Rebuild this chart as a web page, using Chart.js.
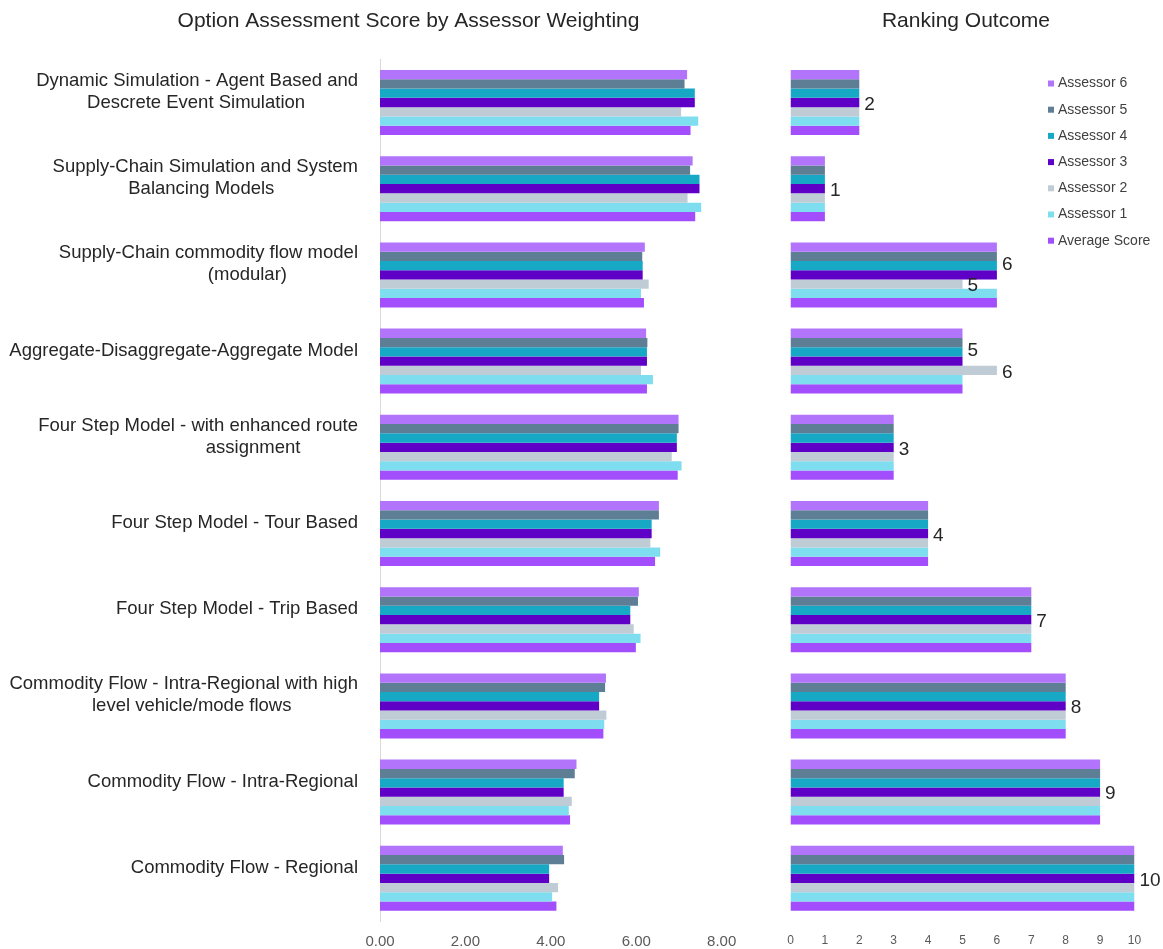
<!DOCTYPE html>
<html>
<head>
<meta charset="utf-8">
<script src="https://cdn.jsdelivr.net/npm/chart.js@4.4.0/dist/chart.umd.min.js"></script>
<style>
  html, body { margin: 0; padding: 0; background: #ffffff; }
  #wrap { position: relative; width: 1163px; height: 949px; overflow: hidden; }
  #scores { position: absolute; left: 0; top: 0; }
  #ranks { position: absolute; left: 760px; top: 0; }
</style>
</head>
<body>
<div id="wrap">
  <canvas id="scores" width="760" height="949"></canvas>
  <canvas id="ranks" width="403" height="949"></canvas>
</div>
<script>
// Modelling options (wrapped label lines)
const categories = [
  ['Dynamic Simulation - Agent Based and', 'Descrete Event Simulation'],
  ['Supply-Chain Simulation and System', 'Balancing Models'],
  ['Supply-Chain commodity flow model', '(modular)'],
  ['Aggregate-Disaggregate-Aggregate Model'],
  ['Four Step Model - with enhanced route', 'assignment'],
  ['Four Step Model - Tour Based'],
  ['Four Step Model - Trip Based'],
  ['Commodity Flow - Intra-Regional with high', 'level vehicle/mode flows'],
  ['Commodity Flow - Intra-Regional'],
  ['Commodity Flow - Regional']
];

const seriesNames = ['Assessor 6', 'Assessor 5', 'Assessor 4', 'Assessor 3', 'Assessor 2', 'Assessor 1', 'Average Score'];

// Option assessment scores by assessor weighting
const scoreAssessor6 = [7.19, 7.32, 6.20, 6.23, 6.99, 6.53, 6.06, 5.29, 4.60, 4.28];
const scoreAssessor5 = [7.13, 7.26, 6.14, 6.26, 6.99, 6.53, 6.04, 5.27, 4.56, 4.31];
const scoreAssessor4 = [7.37, 7.48, 6.15, 6.25, 6.95, 6.36, 5.86, 5.13, 4.30, 3.96];
const scoreAssessor3 = [7.37, 7.48, 6.15, 6.25, 6.95, 6.36, 5.86, 5.13, 4.30, 3.96];
const scoreAssessor2 = [7.05, 7.20, 6.29, 6.11, 6.83, 6.33, 5.94, 5.30, 4.49, 4.17];
const scoreAssessor1 = [7.45, 7.52, 6.11, 6.39, 7.06, 6.56, 6.10, 5.25, 4.42, 4.03];
const scoreAverage   = [7.27, 7.38, 6.18, 6.25, 6.97, 6.44, 5.99, 5.23, 4.45, 4.13];

// Ranking outcome by assessor weighting
const rankAssessor6 = [2, 1, 6, 5, 3, 4, 7, 8, 9, 10];
const rankAssessor5 = [2, 1, 6, 5, 3, 4, 7, 8, 9, 10];
const rankAssessor4 = [2, 1, 6, 5, 3, 4, 7, 8, 9, 10];
const rankAssessor3 = [2, 1, 6, 5, 3, 4, 7, 8, 9, 10];
const rankAssessor2 = [2, 1, 5, 6, 3, 4, 7, 8, 9, 10];
const rankAssessor1 = [2, 1, 6, 5, 3, 4, 7, 8, 9, 10];
const rankAverage   = [2, 1, 6, 5, 3, 4, 7, 8, 9, 10];

// Axis tick settings
const scoreTickStep = 2;
const scoreMax = 8;
const rankTickStep = 1;
const rankMax = 10;

const seriesColors = ['#b174fb', '#5e7e96', '#17a8c6', '#5e00c6', '#bfccd6', '#7edeef', '#a24efc'];

// Horizontal nudge (px) of each label's second line, as the wrapped text sits
const secondLineShift = [-1, -4, 39, 0, 55, 0, 0, 8, 0, 0];

const FONT = '"Liberation Sans", Arial, Helvetica, sans-serif';
const TEXT = '#262626';
const TICK = '#595959';

const scoreSeries = [scoreAssessor6, scoreAssessor5, scoreAssessor4, scoreAssessor3, scoreAssessor2, scoreAssessor1, scoreAverage];
const rankSeries = [rankAssessor6, rankAssessor5, rankAssessor4, rankAssessor3, rankAssessor2, rankAssessor1, rankAverage];
const categoryKeys = categories.map(lines => lines.join(' '));

function makeDatasets(series) {
  return series.map((values, i) => ({
    label: seriesNames[i],
    data: values,
    backgroundColor: seriesColors[i],
    borderWidth: 0,
    barPercentage: 1,
    categoryPercentage: 0.754
  }));
}

function titlePlugin(text, cx) {
  return {
    id: 'panelTitle',
    afterDraw(chart) {
      const ctx = chart.ctx;
      ctx.save();
      ctx.font = '21px ' + FONT;
      ctx.fillStyle = TEXT;
      ctx.textAlign = 'center';
      ctx.textBaseline = 'middle';
      ctx.fillText(text, cx, 21);
      ctx.restore();
    }
  };
}

// Category names to the left of the score panel, each block right-aligned, lines centred
const categoryLabels = {
  id: 'categoryLabels',
  afterDraw(chart) {
    const { ctx, chartArea } = chart;
    const y = chart.scales.y;
    ctx.save();
    ctx.font = '18.5px ' + FONT;
    ctx.fillStyle = TEXT;
    ctx.textAlign = 'center';
    ctx.textBaseline = 'middle';
    const right = chartArea.left - 22;
    categories.forEach((lines, i) => {
      const cy = y.getPixelForValue(i) - 10.5;
      const w = Math.max(...lines.map(l => ctx.measureText(l).width));
      const cx = right - w / 2;
      lines.forEach((line, k) => {
        const dx = k > 0 ? secondLineShift[i] : 0;
        ctx.fillText(line, cx + dx, cy + (k - (lines.length - 1) / 2) * 22);
      });
    });
    ctx.restore();
  }
};

// Rank values written at the end of the Assessor 3 bars (and Assessor 2 where it differs)
const rankLabels = {
  id: 'rankLabels',
  afterDatasetsDraw(chart) {
    const ctx = chart.ctx;
    const m3 = chart.getDatasetMeta(3);
    const m2 = chart.getDatasetMeta(4);
    ctx.save();
    ctx.font = '19px ' + FONT;
    ctx.fillStyle = TEXT;
    ctx.textAlign = 'left';
    ctx.textBaseline = 'middle';
    rankAssessor3.forEach((v3, i) => {
      const v2 = rankAssessor2[i];
      const b3 = m3.data[i];
      const b2 = m2.data[i];
      const split = v2 !== v3;
      ctx.fillText(String(v3), b3.x + 5, b3.y + 2 - (split ? 12 : 0));
      if (split) ctx.fillText(String(v2), b2.x + 5, b2.y + 2);
    });
    ctx.restore();
  }
};

// Legend overlaid on the right of the ranking panel
const rankLegend = {
  id: 'rankLegend',
  afterDraw(chart) {
    const ctx = chart.ctx;
    ctx.save();
    ctx.font = '14px ' + FONT;
    ctx.textAlign = 'left';
    ctx.textBaseline = 'middle';
    chart.data.datasets.forEach((ds, i) => {
      const cy = 83.5 + i * 26.2;
      ctx.fillStyle = ds.backgroundColor;
      ctx.fillRect(288, cy - 3, 6, 6);
      ctx.fillStyle = '#404040';
      ctx.fillText(ds.label, 298, cy);
    });
    ctx.restore();
  }
};

const PLOT_TOP = 59.4;
const AXIS_H = 27.6;

new Chart(document.getElementById('scores'), {
  type: 'bar',
  data: { labels: categoryKeys, datasets: makeDatasets(scoreSeries) },
  options: {
    indexAxis: 'y',
    responsive: false,
    animation: false,
    layout: { padding: { left: 380, right: 38.3, top: PLOT_TOP, bottom: 0 } },
    plugins: { legend: { display: false }, tooltip: { enabled: false } },
    scales: {
      x: {
        min: 0, max: scoreMax,
        grid: { display: false, drawTicks: false },
        border: { display: false },
        ticks: {
          stepSize: scoreTickStep,
          padding: 11,
          color: TICK,
          font: { family: FONT, size: 15 },
          callback: v => Number(v).toFixed(2)
        },
        afterFit(scale) { scale.height = AXIS_H; }
      },
      y: {
        grid: { display: false, drawTicks: false },
        border: { display: true, color: '#d9d9d9', width: 1 },
        ticks: { display: false },
        afterFit(scale) { scale.width = 0; }
      }
    }
  },
  plugins: [titlePlugin('Option Assessment Score by Assessor Weighting', 408.5), categoryLabels]
});

new Chart(document.getElementById('ranks'), {
  type: 'bar',
  data: { labels: categoryKeys, datasets: makeDatasets(rankSeries) },
  options: {
    indexAxis: 'y',
    responsive: false,
    animation: false,
    layout: { padding: { left: 30.5, right: 28.5, top: PLOT_TOP, bottom: 0 } },
    plugins: { legend: { display: false }, tooltip: { enabled: false } },
    scales: {
      x: {
        min: 0, max: rankMax,
        grid: { display: false, drawTicks: false },
        border: { display: false },
        ticks: {
          stepSize: rankTickStep,
          padding: 12,
          color: TICK,
          font: { family: FONT, size: 12 }
        },
        afterFit(scale) { scale.height = AXIS_H; }
      },
      y: {
        grid: { display: false, drawTicks: false },
        border: { display: false },
        ticks: { display: false },
        afterFit(scale) { scale.width = 0; }
      }
    }
  },
  plugins: [titlePlugin('Ranking Outcome', 206), rankLabels, rankLegend]
});
</script>
</body>
</html>
